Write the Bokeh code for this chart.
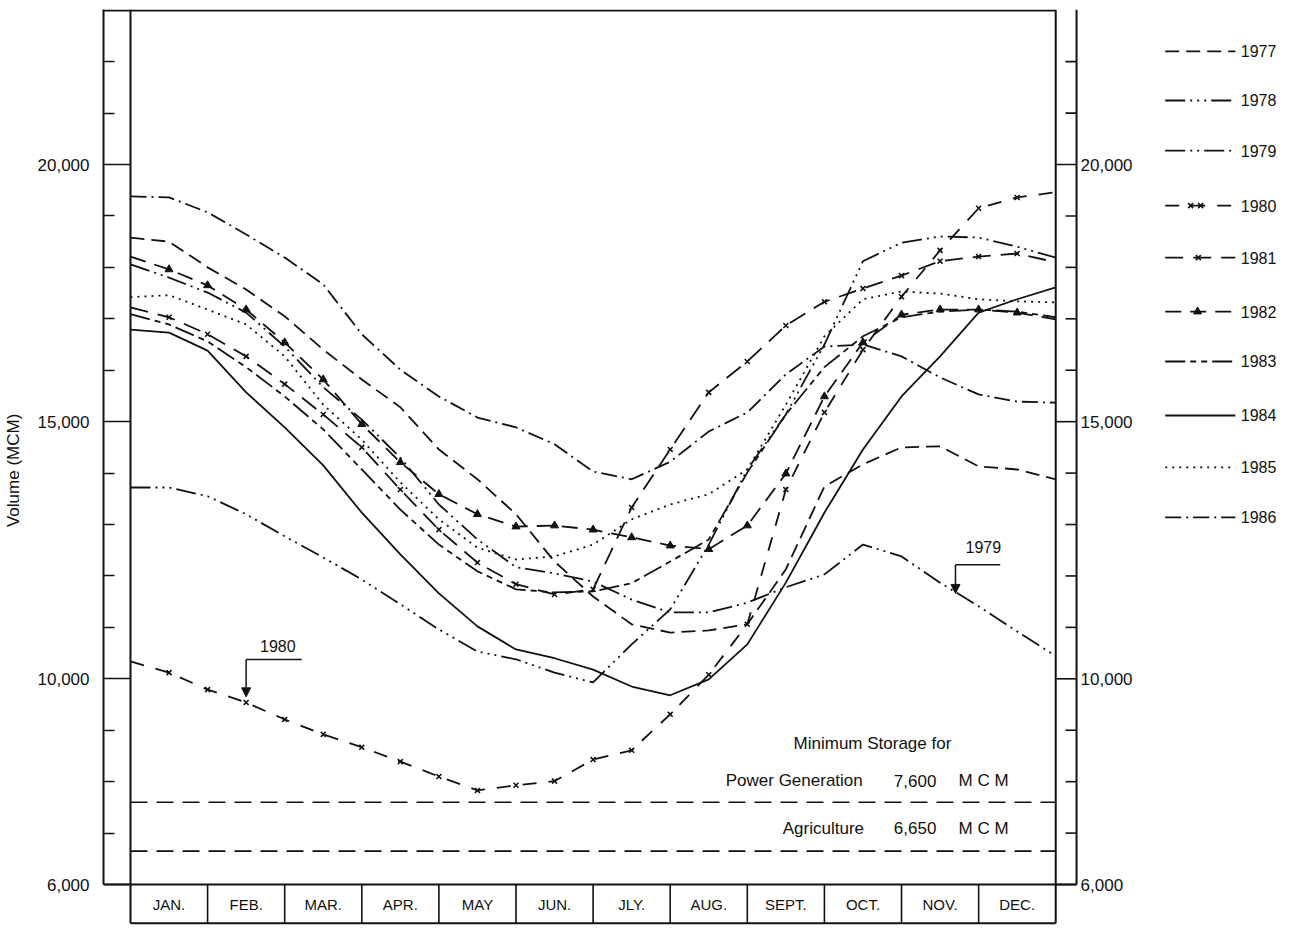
from bokeh.plotting import figure
from bokeh.models import Range1d, LinearAxis, FixedTicker, Arrow, NormalHead
from bokeh.core.properties import value
from bokeh.embed import file_html
from bokeh.resources import INLINE

FONT = value("Liberation Sans")
INK = "#111111"

# ---------------- data ----------------
MONTHS = ["JAN.", "FEB.", "MAR.", "APR.", "MAY", "JUN.", "JLY.", "AUG.",
          "SEPT.", "OCT.", "NOV.", "DEC."]
MONTH_POS = [0.5, 1.5, 2.5, 3.5, 4.5, 5.5, 6.5, 7.5, 8.5, 9.5, 10.5, 11.5]
MONTH_EDGES = [1, 2, 3, 4, 5, 6, 7, 8, 9, 10, 11]

# half-month sampling positions (months from 1 January)
X = [0, 0.5, 1, 1.5, 2, 2.5, 3, 3.5, 4, 4.5, 5, 5.5, 6, 6.5, 7, 7.5, 8, 8.5,
     9, 9.5, 10, 10.5, 11, 11.5, 12]

YEARS = ["1977", "1978", "1979", "1980", "1981", "1982", "1983", "1984",
         "1985", "1986"]

V1977 = [18580, 18500, 18000, 17570, 17050, 16400, 15820, 15280, 14460, 13880,
         13200, 12280, 11600, 11060, 10900, 10940, 11060, 12130, 13740, 14170,
         14500, 14520, 14130, 14070, 13880]
V1978 = [13720, 13720, 13550, 13200, 12770, 12360, 11930, 11450, 10960, 10530,
         10380, 10120, 9930, 10670, 11350, 12610, 14070, 15140, 16500, 18120,
         18480, 18600, 18580, 18400, 18190]
V1979 = [18060, 17800, 17510, 17120, 16460, 15670, 15040, 14300, 13390, 12710,
         12170, 12050, 11890, 11540, 11290, 11290, 11480, 11780, 12030, 12610,
         12380, 11870, 11410, 10920, 10440]
V1980 = [10340, 10120, 9790, 9540, 9210, 8920, 8670, 8390, 8100, 7830,
         7930, 8010, 8430, 8610, 9310, 10080, 11060, 13680, 15180, 16400,
         17430, 18330, 19150, 19360, 19460]
V1981 = [17220, 17030, 16700, 16270, 15730, 15140, 14500, 13680, 12900, 12260,
         11840, 11640, 11740, 13330, 14460, 15570, 16170, 16870, 17330, 17590,
         17840, 18120, 18210, 18270, 18100]
V1982 = [18210, 17960, 17650, 17180, 16540, 15820, 14950, 14210, 13590, 13200,
         12960, 12980, 12900, 12750, 12590, 12520, 12980, 13990, 15490, 16540,
         17080, 17180, 17180, 17120, 16990]
V1983 = [17090, 16890, 16560, 16060, 15490, 14850, 14070, 13290, 12610, 12090,
         11740, 11680, 11700, 11860, 12280, 12710, 14010, 15140, 16060, 16660,
         17030, 17140, 17180, 17140, 17030]
V1984 = [16790, 16730, 16380, 15570, 14890, 14150, 13230, 12420, 11660, 11020,
         10570, 10400, 10180, 9850, 9680, 9990, 10670, 11870, 13230, 14460,
         15490, 16270, 17120, 17380, 17610]
V1985 = [17420, 17460, 17180, 16890, 16270, 15330, 14650, 13820, 13100, 12550,
         12320, 12380, 12610, 13100, 13390, 13590, 14070, 15330, 16660, 17380,
         17530, 17490, 17380, 17340, 17320]
V1986 = [19380, 19360, 19070, 18640, 18190, 17670, 16700, 16010, 15490, 15080,
         14890, 14560, 14030, 13880, 14220, 14810, 15180, 15920, 16460, 16500,
         16270, 15860, 15530, 15390, 15370]
SERIES = [V1977, V1978, V1979, V1980, V1981, V1982, V1983, V1984, V1985, V1986]

MIN_POWER = 7600
MIN_AGRI = 6650

MAJOR_TICKS = [6000, 10000, 15000, 20000]
MAJOR_LABELS = ["6,000", "10,000", "15,000", "20,000"]
MINOR_TICKS = [7000, 8000, 9000, 11000, 12000, 13000, 14000, 16000, 17000,
               18000, 19000, 21000, 22000]

# ---------------- geometry (layout only) ----------------
X_LO, X_HI = -0.350, 15.045
Y_LO, Y_HI = 5184, 23014
BOX_BOTTOM = 5245
R_OUT = 12.27          # outer line of the right-hand scale strip
PX = 1 / 77.1          # one pixel in month units

p = figure(frame_width=1187, frame_height=917,
           x_range=Range1d(X_LO, X_HI), y_range=Range1d(Y_LO, Y_HI),
           output_backend="svg", toolbar_location=None,
           x_axis_location=None, y_axis_location=None,
           min_border_left=103, min_border_top=9, min_border_bottom=0,
           min_border_right=0)
p.grid.visible = False
p.outline_line_color = None
p.background_fill_color = "white"
p.border_fill_color = "white"

# left scale (real axis)
ax = LinearAxis(ticker=FixedTicker(ticks=MAJOR_TICKS, minor_ticks=MINOR_TICKS),
                bounds=(6000, Y_HI))
ax.major_label_overrides = dict(zip(MAJOR_TICKS, MAJOR_LABELS))
ax.major_tick_in = 27
ax.major_tick_out = 0
ax.minor_tick_in = 11
ax.minor_tick_out = 0
ax.axis_line_width = 2
ax.major_tick_line_width = 1.6
ax.minor_tick_line_width = 1.6
ax.axis_line_color = INK
ax.major_tick_line_color = INK
ax.minor_tick_line_color = INK
ax.major_label_text_font = "Liberation Sans"
ax.major_label_text_font_size = "17px"
ax.major_label_text_color = INK
ax.major_label_standoff = 14
ax.axis_label = "Volume  (MCM)"
ax.axis_label_text_font = "Liberation Sans"
ax.axis_label_text_font_size = "17px"
ax.axis_label_text_font_style = "normal"
ax.axis_label_text_color = INK
ax.axis_label_standoff = 12
p.add_layout(ax, "left")

# frame lines: top, inner left, inner right, 6,000 base, box bottom, right outer
p.segment(x0=[X_LO, 0, 12, X_LO, 0, R_OUT],
          y0=[Y_HI - 20, Y_HI, Y_HI, 6000, BOX_BOTTOM, 6000],
          x1=[12, 0, 12, R_OUT, 12, R_OUT],
          y1=[Y_HI - 20, BOX_BOTTOM, BOX_BOTTOM, 6000, BOX_BOTTOM, Y_HI],
          line_color=INK, line_width=2)

# right scale: ticks drawn inward from the outer line, labels outside
p.segment(x0=[12] * len(MAJOR_TICKS), y0=MAJOR_TICKS,
          x1=[R_OUT] * len(MAJOR_TICKS), y1=MAJOR_TICKS,
          line_color=INK, line_width=1.6)
p.segment(x0=[R_OUT - 11 * PX] * len(MINOR_TICKS), y0=MINOR_TICKS,
          x1=[R_OUT] * len(MINOR_TICKS), y1=MINOR_TICKS,
          line_color=INK, line_width=1.6)
p.text(x=[R_OUT + 4 * PX] * len(MAJOR_TICKS), y=MAJOR_TICKS, text=MAJOR_LABELS,
       text_font=FONT, text_font_size=value("17px"), text_align="left",
       text_baseline="middle", text_color=INK)

# month boxes
p.segment(x0=MONTH_EDGES, y0=[6000] * len(MONTH_EDGES),
          x1=MONTH_EDGES, y1=[BOX_BOTTOM] * len(MONTH_EDGES),
          line_color=INK, line_width=1.6)
p.text(x=MONTH_POS, y=[5615] * 12, text=MONTHS, text_font=FONT,
       text_font_size=value("15px"), text_align="center", text_baseline="middle",
       text_color=INK)

# minimum storage lines
p.line(x=[0, 12], y=[MIN_POWER, MIN_POWER], line_color=INK, line_width=1.7,
       line_dash="17 9")
p.line(x=[0, 12], y=[MIN_AGRI, MIN_AGRI], line_color=INK, line_width=1.7,
       line_dash="17 9")
p.text(x=[8.60, 7.72, 9.90, 10.74, 8.46, 9.90, 10.74],
       y=[8740, 8020, 8020, 8020, 7090, 7090, 7090],
       text=["Minimum Storage for", "Power Generation", "7,600", "M C M",
             "Agriculture", "6,650", "M C M"],
       text_font=FONT, text_font_size=value("17px"), text_align="left",
       text_baseline="middle", text_color=INK)

# ---------------- series ----------------
LW = 1.8
DASH = {"1977": "14 7", "1978": "20 5 2 5 2 5 2 5", "1979": "20 5 2 5 2 5",
        "1980": "14 12", "1981": "18 10", "1982": "16 9",
        "1983": "20 5 6 5 6 5", "1984": "solid", "1985": "2 5",
        "1986": "16 5 2 5"}
MARK = {"1980": "x", "1981": "x", "1982": "triangle"}

for name, data in zip(YEARS, SERIES):
    p.line(x=X, y=data, line_color=INK, line_width=LW, line_dash=DASH[name])
    mk = MARK.get(name)
    if mk == "x":
        p.scatter(x=X[1:-1], y=data[1:-1], marker="x", size=7,
                  line_color=INK, line_width=1.6)
    elif mk == "triangle":
        p.scatter(x=X[1:-1], y=data[1:-1], marker="triangle", size=8,
                  line_color=INK, fill_color=INK)

# ---------------- key (drawn beside the right scale) ----------------
KEY_ROWS = [22200, 21245, 20270, 19200, 18190, 17140, 16170, 15120, 14110, 13140]
KEY_X0, KEY_X1, KEY_LABEL_X = 13.42, 14.33, 14.40
for name, ky in zip(YEARS, KEY_ROWS):
    p.line(x=[KEY_X0, KEY_X1], y=[ky, ky], line_color=INK, line_width=LW,
           line_dash=DASH[name])
p.scatter(x=[13.75, 13.88], y=[KEY_ROWS[3]] * 2, marker="x", size=7,
          line_color=INK, line_width=1.6)
p.scatter(x=[13.85], y=[KEY_ROWS[4]], marker="x", size=7,
          line_color=INK, line_width=1.6)
p.scatter(x=[13.84], y=[KEY_ROWS[5]], marker="triangle", size=8,
          line_color=INK, fill_color=INK)
p.text(x=[KEY_LABEL_X] * len(YEARS), y=KEY_ROWS, text=YEARS, text_font=FONT,
       text_font_size=value("16px"), text_align="left", text_baseline="middle",
       text_color=INK)

# ---------------- call-outs ----------------
p.text(x=[1.68, 10.83], y=[10640, 12560], text=["1980", "1979"], text_font=FONT,
       text_font_size=value("16px"), text_align="left", text_baseline="middle",
       text_color=INK)
p.line(x=[1.50, 2.22], y=[10375, 10375], line_color=INK, line_width=1.5)
p.line(x=[10.70, 11.28], y=[12220, 12220], line_color=INK, line_width=1.5)
p.add_layout(Arrow(end=NormalHead(size=9, fill_color=INK, line_color=INK),
                   x_start=1.50, y_start=10375, x_end=1.50, y_end=9650,
                   line_color=INK, line_width=1.5))
p.add_layout(Arrow(end=NormalHead(size=9, fill_color=INK, line_color=INK),
                   x_start=10.70, y_start=12220, x_end=10.70, y_end=11660,
                   line_color=INK, line_width=1.5))

open("out.html", "w").write(file_html(p, INLINE))
